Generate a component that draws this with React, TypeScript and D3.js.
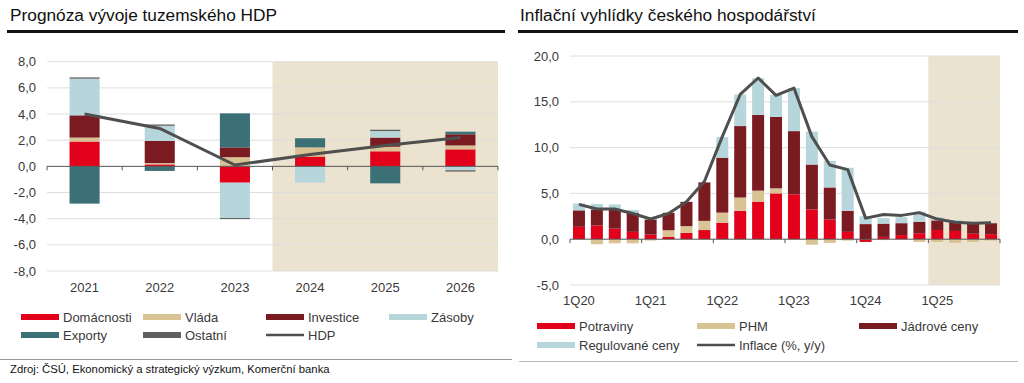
import React from 'react';
import * as d3 from 'd3';

// ---------- Left chart data ----------
const years = ['2021', '2022', '2023', '2024', '2025', '2026'];
const domacnosti = [1.9, 0.15, -1.25, 0.75, 1.15, 1.3];
const vlada = [0.3, 0.1, 0.7, 0.7, 0.35, 0.3];
const investice = [1.7, 1.7, 0.75, 0, 0.7, 0.85];
const zasoby = [2.8, 1.15, -2.7, -1.25, 0.5, -0.3];
const exporty = [-2.85, -0.35, 2.6, 0.7, -1.3, 0.2];
const ostatni = [0.1, 0.1, -0.08, 0, 0.1, -0.1];
const hdp = [4.0, 2.9, 0.1, 0.9, 1.6, 2.2];
const leftTicks = [8, 6, 4, 2, 0, -2, -4, -6, -8];
const leftForecastFrom = '2024';

// ---------- Right chart data ----------
const quarters = [
  '1Q20', '2Q20', '3Q20', '4Q20', '1Q21', '2Q21', '3Q21', '4Q21',
  '1Q22', '2Q22', '3Q22', '4Q22', '1Q23', '2Q23', '3Q23', '4Q23',
  '1Q24', '2Q24', '3Q24', '4Q24', '1Q25', '2Q25', '3Q25', '4Q25',
];
const potraviny = [1.35, 1.5, 1.15, 0.8, 0.5, 0.25, 0.7, 1.0, 1.8, 3.1, 4.1, 5.0, 4.9, 3.25, 2.15, 0.8, -0.3, 0.25, 0.45, 0.65, 1.0, 0.9, 0.6, 0.55];
const phm = [0, -0.55, -0.45, -0.45, -0.15, 0.73, 0.73, 1.0, 1.1, 1.45, 1.2, 0.55, 0, -0.6, -0.4, -0.15, 0, -0.1, 0, -0.3, -0.3, -0.4, -0.3, -0.15];
const jadrove = [1.8, 1.75, 2.1, 2.1, 1.65, 1.9, 2.65, 4.2, 6.0, 7.8, 8.27, 7.8, 6.9, 4.9, 3.5, 2.3, 1.65, 1.45, 1.3, 1.25, 1.05, 1.05, 1.1, 1.2];
const regulovane = [0.75, 0.6, 0.55, 0.3, 0.1, 0, 0, 0, 2.25, 3.45, 4.0, 2.4, 4.7, 3.6, 2.9, 4.7, 0.85, 0.6, 0.65, 1.1, 0.35, 0.15, 0.1, 0.05];
const inflace = [3.8, 3.3, 3.3, 2.8, 2.2, 2.8, 4.1, 6.3, 11.2, 15.8, 17.6, 15.7, 16.5, 11.2, 8.1, 7.6, 2.3, 2.7, 2.6, 2.9, 2.2, 1.85, 1.75, 1.8];
const rightTicks = [20, 15, 10, 5, 0, -5];
const rightForecastFrom = '1Q25';

const C = {
  red: '#e3001b',
  tan: '#d9c293',
  dark: '#7a1b22',
  light: '#b6d6db',
  teal: '#3c7077',
  gray: '#606060',
  line: '#4f4f4f',
  shade: '#ebe3cf',
  grid: '#dedede',
  axis: '#555555',
  text: '#3a3a3a',
};

const FONT = '"Liberation Sans", Arial, sans-serif';
const fmt = (v: number) => v.toFixed(1).replace('.', ',');

function LeftChart() {
  const x = d3.scaleBand<string>().domain(years).range([47, 498]).paddingInner(0.6).paddingOuter(0.3);
  const y = d3.scaleLinear().domain([-8, 8]).range([271, 61.7]);
  const keys = ['domacnosti', 'vlada', 'investice', 'zasoby', 'exporty', 'ostatni'];
  const colors: Record<string, string> = {
    domacnosti: C.red, vlada: C.tan, investice: C.dark, zasoby: C.light, exporty: C.teal, ostatni: C.gray,
  };
  const rows = years.map((yr, i) => ({
    year: yr, domacnosti: domacnosti[i], vlada: vlada[i], investice: investice[i],
    zasoby: zasoby[i], exporty: exporty[i], ostatni: ostatni[i],
  }));
  const series = d3.stack<any>().keys(keys).offset(d3.stackOffsetDiverging)(rows);
  const step = x.step();
  const x0 = 47;
  const line = d3.line<number>().x((_, i) => (x(years[i]) as number) + x.bandwidth() / 2).y((d) => y(d));
  const shadeX = x0 + years.indexOf(leftForecastFrom) * step;
  return (
    <g>
      <rect x={shadeX} y={y(8)} width={498 - shadeX} height={y(-8) - y(8)} fill={C.shade} />
      {leftTicks.map((t) => (
        <g key={t}>
          {t !== 0 && <line x1={x0} x2={498} y1={y(t)} y2={y(t)} stroke={C.grid} strokeWidth={1} />}
          <text x={36} y={y(t)} dy="0.35em" textAnchor="end" fontSize={13} fill={C.text}>{fmt(t)}</text>
        </g>
      ))}
      {series.map((s) => (
        <g key={s.key} fill={colors[s.key]}>
          {s.map((d: any, i: number) => (
            <rect key={i} x={x(years[i])} width={x.bandwidth()} y={y(Math.max(d[0], d[1]))}
              height={Math.abs(y(d[0]) - y(d[1]))} />
          ))}
        </g>
      ))}
      <line x1={x0} x2={498} y1={y(0)} y2={y(0)} stroke={C.axis} strokeWidth={1} />
      {d3.range(years.length + 1).map((i) => (
        <line key={i} x1={x0 + i * step} x2={x0 + i * step} y1={y(0)} y2={y(0) + 4} stroke={C.axis} />
      ))}
      <path d={line(hdp) as string} fill="none" stroke={C.line} strokeWidth={3} />
      {years.map((yr) => (
        <text key={yr} x={(x(yr) as number) + x.bandwidth() / 2} y={292} textAnchor="middle" fontSize={13} fill={C.text}>{yr}</text>
      ))}
    </g>
  );
}

function RightChart() {
  const x = d3.scaleBand<string>().domain(quarters).range([570, 1000]).paddingInner(0.33).paddingOuter(0.165);
  const y = d3.scaleLinear().domain([-5, 20]).range([285, 56]);
  const keys = ['potraviny', 'phm', 'jadrove', 'regulovane'];
  const colors: Record<string, string> = { potraviny: C.red, phm: C.tan, jadrove: C.dark, regulovane: C.light };
  const rows = quarters.map((q, i) => ({ q, potraviny: potraviny[i], phm: phm[i], jadrove: jadrove[i], regulovane: regulovane[i] }));
  const series = d3.stack<any>().keys(keys).offset(d3.stackOffsetDiverging)(rows);
  const step = x.step();
  const x0 = 570;
  const cx = (i: number) => (x(quarters[i]) as number) + x.bandwidth() / 2;
  const line = d3.line<number>().x((_, i) => cx(i)).y((d) => y(d)).curve(d3.curveLinear);
  const shadeX = x0 + quarters.indexOf(rightForecastFrom) * step;
  const yearStarts = quarters.map((q, i) => (q.startsWith('1Q') ? i : -1)).filter((i) => i >= 0);
  return (
    <g>
      <rect x={shadeX} y={y(20)} width={1000 - shadeX} height={y(-5) - y(20)} fill={C.shade} />
      {rightTicks.map((t) => (
        <g key={t}>
          {t !== 0 && <line x1={x0} x2={1000} y1={y(t)} y2={y(t)} stroke={C.grid} strokeWidth={1} />}
          <text x={559} y={y(t)} dy="0.35em" textAnchor="end" fontSize={13} fill={C.text}>{fmt(t)}</text>
        </g>
      ))}
      {series.map((s) => (
        <g key={s.key} fill={colors[s.key]}>
          {s.map((d: any, i: number) => (
            <rect key={i} x={x(quarters[i])} width={x.bandwidth()} y={y(Math.max(d[0], d[1]))}
              height={Math.abs(y(d[0]) - y(d[1]))} />
          ))}
        </g>
      ))}
      <line x1={x0} x2={1000} y1={y(0)} y2={y(0)} stroke={C.axis} strokeWidth={1} />
      {[...yearStarts, quarters.length].map((i) => (
        <line key={i} x1={x0 + i * step} x2={x0 + i * step} y1={y(0)} y2={y(0) + 4} stroke={C.axis} />
      ))}
      <path d={line(inflace) as string} fill="none" stroke={C.line} strokeWidth={3} strokeLinejoin="round" />
      {yearStarts.map((i) => (
        <text key={i} x={cx(i)} y={305} textAnchor="middle" fontSize={13} fill={C.text}>{quarters[i]}</text>
      ))}
    </g>
  );
}

function Swatch({ x, y, color, label, isLine }: { x: number; y: number; color: string; label: string; isLine?: boolean }) {
  return (
    <g>
      {isLine ? (
        <line x1={x} x2={x + 38} y1={y} y2={y} stroke={color} strokeWidth={2.5} />
      ) : (
        <rect x={x} y={y - 3} width={38} height={6} fill={color} />
      )}
      <text x={x + 42} y={y} dy="0.36em" fontSize={13} fill={C.text}>{label}</text>
    </g>
  );
}

export default function App() {
  return (
    <svg width={1024} height={383} style={{ position: 'fixed', left: 0, top: 0, background: '#fff' }} fontFamily={FONT}>
      <rect x={0} y={0} width={1024} height={383} fill="#fff" />
      <text x={10} y={21} fontSize={17.3} fill="#111">Prognóza vývoje tuzemského HDP</text>
      <rect x={7} y={30} width={498} height={3} fill="#111" />
      <text x={520} y={21} fontSize={17.3} fill="#111">Inflační vyhlídky českého hospodářství</text>
      <rect x={518} y={30} width={500} height={3} fill="#111" />

      <LeftChart />
      <RightChart />

      <Swatch x={21} y={317} color={C.red} label="Domácnosti" />
      <Swatch x={143} y={317} color={C.tan} label="Vláda" />
      <Swatch x={266} y={317} color={C.dark} label="Investice" />
      <Swatch x={389} y={317} color={C.light} label="Zásoby" />
      <Swatch x={21} y={335} color={C.teal} label="Exporty" />
      <Swatch x={143} y={335} color={C.gray} label="Ostatní" />
      <Swatch x={266} y={335} color={C.line} label="HDP" isLine />

      <Swatch x={537} y={326} color={C.red} label="Potraviny" />
      <Swatch x={697} y={326} color={C.tan} label="PHM" />
      <Swatch x={859} y={326} color={C.dark} label="Jádrové ceny" />
      <Swatch x={537} y={345} color={C.light} label="Regulované ceny" />
      <Swatch x={697} y={345} color={C.line} label="Inflace (%, y/y)" isLine />

      <line x1={0} x2={512} y1={359.5} y2={359.5} stroke="#999" strokeWidth={1} />
      <line x1={519} x2={1018} y1={361.5} y2={361.5} stroke="#bbb" strokeWidth={1} />
      <text x={10} y={373} fontSize={11.3} fill="#111">Zdroj: ČSÚ, Ekonomický a strategický výzkum, Komerční banka</text>
    </svg>
  );
}
